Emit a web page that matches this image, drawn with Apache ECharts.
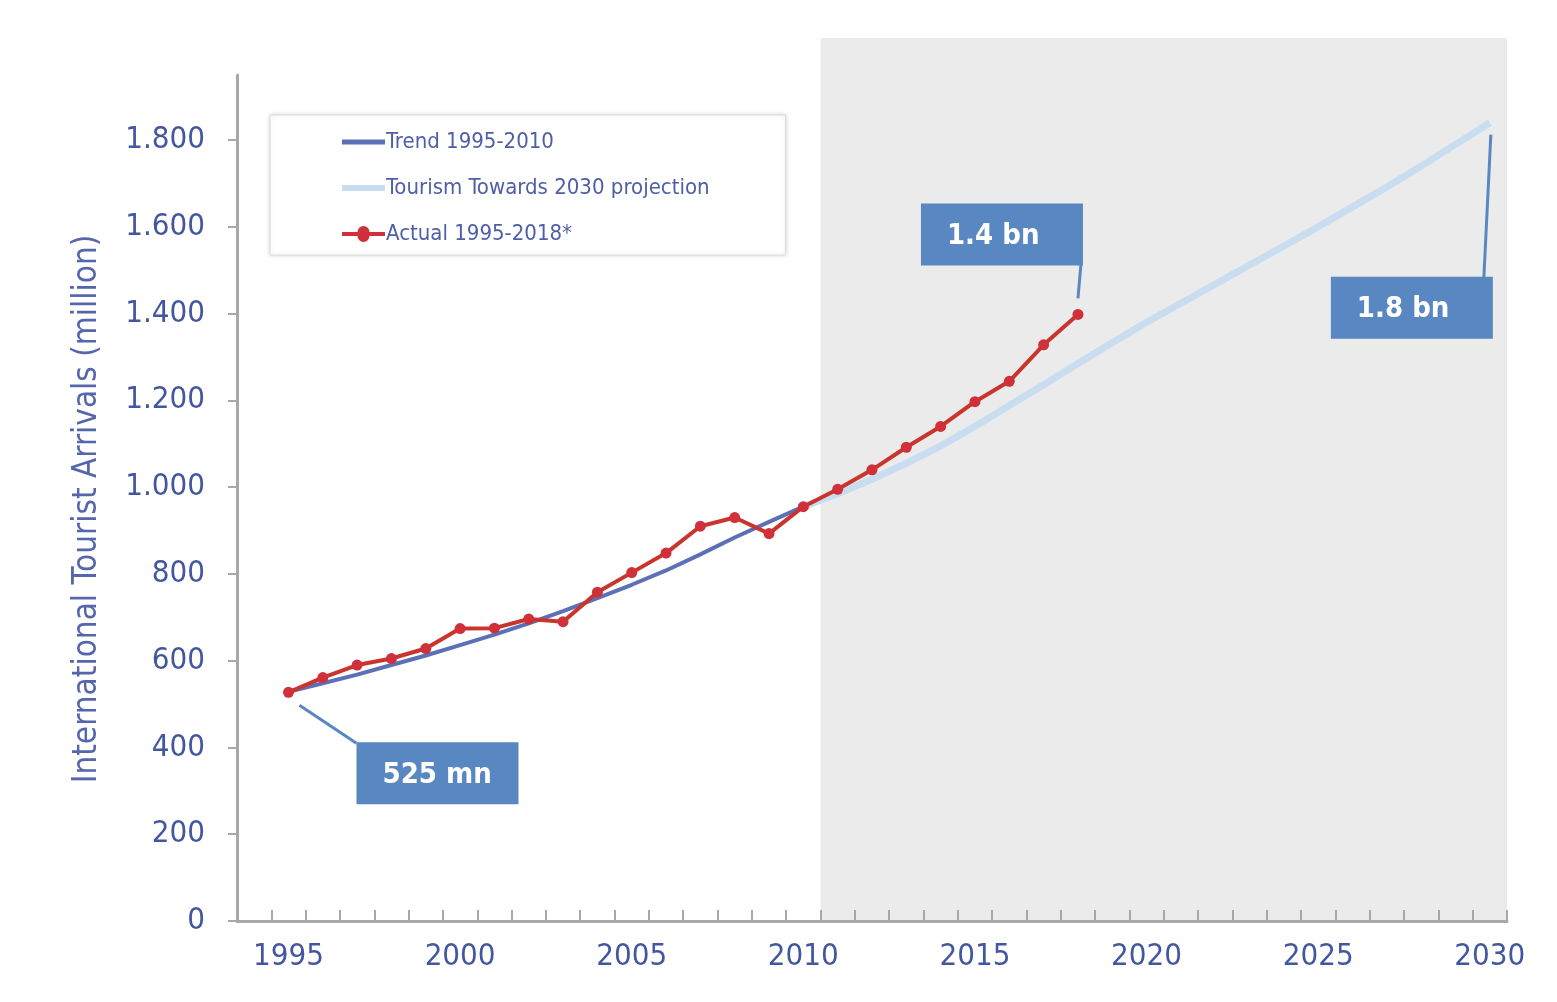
<!DOCTYPE html>
<html>
<head>
<meta charset="utf-8">
<script src="https://cdn.jsdelivr.net/npm/echarts@6/dist/echarts.min.js"></script>
<style>
  html, body { margin: 0; padding: 0; background: #fff; }
  #chart { width: 1557px; height: 1002px; }
</style>
</head>
<body>
<div id="chart"></div>
<script>
  // categories 1994..2030, first slot is empty
  var years = [];
  for (var y = 1994; y <= 2030; y++) years.push(String(y));

  var actualYears = [1995, 1996, 1997, 1998, 1999, 2000, 2001, 2002, 2003, 2004, 2005, 2006,
                     2007, 2008, 2009, 2010, 2011, 2012, 2013, 2014, 2015, 2016, 2017, 2018];
  var actualValues = [527, 561, 590, 605, 628, 674, 675, 696, 690, 758, 803, 848,
                      910, 930, 893, 955, 995, 1040, 1092, 1140, 1197, 1244, 1328, 1398];

  var trendYears = [1995, 1996, 1997, 1998, 1999, 2000, 2001, 2002, 2003, 2004, 2005, 2006,
                    2007, 2008, 2009, 2010];
  var trendValues = [528, 548, 568, 590, 612, 636, 660, 686, 714, 744, 775, 808,
                     845, 884, 920, 955];

  var projYears = [2010, 2011, 2012, 2013, 2014, 2015, 2016, 2017, 2018, 2019, 2020,
                   2021, 2022, 2023, 2024, 2025, 2026, 2027, 2028, 2029, 2030];
  var projValues = [955, 985, 1018, 1055, 1095, 1140, 1188, 1236, 1285, 1333, 1380,
                    1424, 1468, 1512, 1556, 1600, 1646, 1692, 1740, 1790, 1840];

  var yTicks = [0, 200, 400, 600, 800, 1000, 1200, 1400, 1600, 1800];

  function toSeries(ys, vs) {
    return years.map(function (yr) {
      var i = ys.indexOf(Number(yr));
      return i < 0 ? null : vs[i];
    });
  }

  var font = "'Liberation Sans Narrow', 'DejaVu Sans Condensed', 'Liberation Sans', sans-serif";
  var labelColor = '#4356a0';
  var axisGrey = '#a8a8a8';
  var boxBlue = '#5987c1';

  var myChart = echarts.init(document.getElementById('chart'));
  myChart.setOption({
    animation: false,
    backgroundColor: '#fff',
    grid: [
      {left: 237, right: 50, top: 75, bottom: 81},
      {left: 237, right: 50, top: 38, bottom: 81}
    ],
    legend: {
      orient: 'vertical',
      left: 270,
      top: 115,
      padding: [16, 76, 10, 72],
      itemGap: 24,
      itemWidth: 43,
      itemHeight: 26,
      backgroundColor: '#fff',
      borderColor: '#dcdcdc',
      borderWidth: 1,
      shadowBlur: 4,
      shadowColor: 'rgba(0,0,0,0.15)',
      textStyle: {fontFamily: font, fontSize: 22, color: '#4e5ea8', padding: [0, 0, 0, -4]},
      data: [
        {name: 'Trend 1995-2010', icon: 'path://M0,0 H43 V5 H0 Z'},
        {name: 'Tourism Towards 2030 projection', icon: 'path://M0,0 H43 V6 H0 Z'},
        {name: 'Actual 1995-2018*', icon: 'path://M0,4 H15.5 A6,6 0 0 1 27.5,4 H43 V8 H27.5 A6,6 0 0 1 15.5,8 H0 Z'}
      ]
    },
    xAxis: [{
      type: 'category',
      data: years,
      boundaryGap: true,
      z: 5,
      axisLine: {lineStyle: {color: axisGrey, width: 3}},
      axisTick: {show: true, interval: 0, inside: true, length: 11, lineStyle: {color: axisGrey, width: 2}},
      axisLabel: {
        interval: function (i, v) { return Number(v) % 5 === 0; },
        margin: 20,
        fontFamily: font,
        fontSize: 31,
        color: labelColor
      },
      splitLine: {show: false}
    }, {
      type: 'value',
      gridIndex: 1,
      min: 1993.5,
      max: 2030.5,
      show: false
    }],
    yAxis: [{
      type: 'value',
      min: 0,
      max: 1950,
      z: 5,
      name: 'International Tourist Arrivals (million)',
      nameLocation: 'middle',
      nameGap: 133,
      nameTextStyle: {fontFamily: font, fontSize: 33, color: '#5566aa', padding: [0, 22, 0, 0]},
      axisLine: {show: true, lineStyle: {color: axisGrey, width: 3}},
      axisTick: {show: true, length: 9, customValues: yTicks, lineStyle: {color: axisGrey, width: 2}},
      axisLabel: {
        customValues: yTicks,
        margin: 32,
        fontFamily: font,
        fontSize: 31,
        color: labelColor,
        formatter: function (v) {
          return v >= 1000 ? Math.floor(v / 1000) + '.' + String(v % 1000).padStart(3, '0') : String(v);
        }
      },
      splitLine: {show: false}
    }, {
      type: 'value',
      gridIndex: 1,
      min: 0,
      max: 1,
      show: false
    }],
    series: [{
      name: 'shade',
      type: 'line',
      xAxisIndex: 1,
      yAxisIndex: 1,
      data: [],
      z: 1,
      markArea: {
        silent: true,
        itemStyle: {color: '#ebebeb'},
        data: [[{coord: [2010.5, 0]}, {coord: [2030.5, 1]}]]
      }
    }, {
      name: 'Tourism Towards 2030 projection',
      type: 'line',
      data: toSeries(projYears, projValues),
      showSymbol: false,
      symbol: 'none',
      z: 3,
      lineStyle: {color: '#c8ddf0', width: 7},
      itemStyle: {color: '#c8ddf0'}
    }, {
      name: 'Trend 1995-2010',
      type: 'line',
      data: toSeries(trendYears, trendValues),
      showSymbol: false,
      symbol: 'none',
      z: 4,
      lineStyle: {color: '#5b70b6', width: 4},
      itemStyle: {color: '#5b70b6'}
    }, {
      name: 'Actual 1995-2018*',
      type: 'line',
      data: toSeries(actualYears, actualValues),
      symbol: 'circle',
      symbolSize: 11,
      z: 6,
      lineStyle: {color: '#c9342d', width: 4},
      itemStyle: {color: '#d0303a'}
    }]
  });

  // callout boxes placed relative to the data points they describe
  function px(year, value) {
    return myChart.convertToPixel({xAxisIndex: 0, yAxisIndex: 0}, [String(year), value]);
  }
  var p95 = px(1995, actualValues[0]);
  var p18 = px(2018, actualValues[actualValues.length - 1]);
  var p30 = px(2030, projValues[projValues.length - 1]);

  function callout(x, y, text) {
    return [{
      type: 'rect',
      shape: {x: x, y: y, width: 162, height: 62},
      style: {fill: boxBlue},
      z: 20
    }, {
      type: 'text',
      x: x + 26,
      y: y + 33,
      z: 21,
      style: {
        text: text, fill: '#fff', fontFamily: font, fontSize: 29, fontWeight: 'bold',
        verticalAlign: 'middle', align: 'left'
      }
    }];
  }
  function leader(x1, y1, x2, y2) {
    return {
      type: 'line',
      shape: {x1: x1, y1: y1, x2: x2, y2: y2},
      style: {stroke: boxBlue, lineWidth: 3},
      z: 19
    };
  }

  myChart.setOption({
    graphic: [].concat(
      leader(p95[0] + 11, p95[1] + 13, p95[0] + 68, p95[1] + 51),
      callout(p95[0] + 68, p95[1] + 50, '525 mn'),
      leader(p18[0] + 3, p18[1] - 50, p18[0], p18[1] - 16),
      callout(p18[0] - 157, p18[1] - 111, '1.4 bn'),
      leader(p30[0] - 6, p30[1] + 155, p30[0] + 1, p30[1] + 12),
      callout(p30[0] - 159, p30[1] + 154, '1.8 bn')
    )
  });
</script>
</body>
</html>
